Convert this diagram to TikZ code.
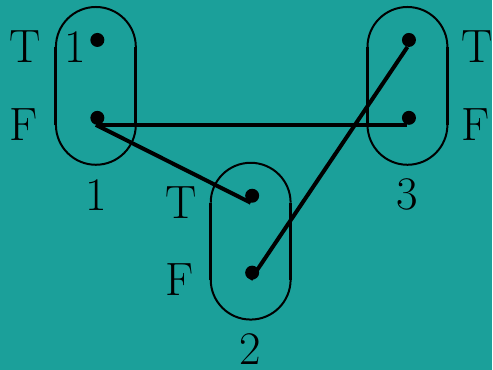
\documentclass[tikz,border=0pt]{standalone}
\usetikzlibrary{positioning}
\definecolor{GadgetTeal}{RGB}{27,160,154}

\begin{document}
\begin{tikzpicture}[x=0.5pt,y=0.5pt,
    every node/.style={font=\fontsize{23.4}{28}\selectfont, inner sep=0pt},
    dot/.style={circle, fill=black, minimum size=7pt},
    wire/.style={line width=2pt},
    rim/.style={line width=1pt},
    side/.style={line width=1.5pt}]
  \fill[GadgetTeal] (0,0) rectangle (493,370);
  % the three gadgets
  \foreach \g/\x/\yt/\yf in {1/96/323/245,2/251/167/90,3/408/323/245} {
    \coordinate (t\g) at (\x,\yt);
    \coordinate (f\g) at (\x,\yf);
    \draw[side] ([xshift=-20pt]t\g) -- ([xshift=-20pt]f\g);
    \draw[side] ([xshift=20pt]t\g) -- ([xshift=20pt]f\g);
    \draw[rim] ([xshift=-20pt]t\g) arc[start angle=180, end angle=0, radius=20pt];
    \draw[rim] ([xshift=-20pt]f\g) arc[start angle=180, end angle=360, radius=20pt];
    \node (n\g) at ([yshift=-35pt]f\g) {\g};
  }
  \node[anchor=west] (lt1) at ([xshift=-43.5pt]t1) {T};
  \node[anchor=west] (lf1) at ([xshift=-43.5pt]f1) {F};
  \node (one) at ([xshift=-10.5pt]t1) {1};
  \node[anchor=west] (lt2) at ([xshift=-43pt]t2) {T};
  \node[anchor=west] (lf2) at ([xshift=-43pt]f2) {F};
  \node[anchor=west] (lt3) at ([xshift=27pt]t3) {T};
  \node[anchor=west] (lf3) at ([xshift=27pt]f3) {F};
  % wires
  \draw[wire] (f1) -- (f3);
  \draw[wire] (f1) -- (t2);
  \draw[wire] (f2) -- (t3);
  \foreach \g in {1,2,3} {
    \node[dot] (dt\g) at ([shift={(1.5,7)}]t\g) {};
    \node[dot] (df\g) at ([shift={(1.5,7)}]f\g) {};
  }
\end{tikzpicture}
\end{document}
